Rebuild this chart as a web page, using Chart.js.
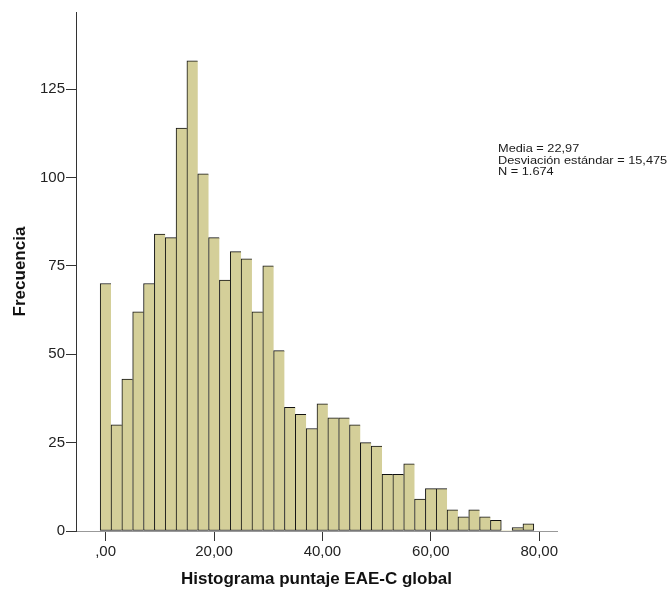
<!DOCTYPE html>
<html>
<head>
<meta charset="utf-8">
<script src="https://cdn.jsdelivr.net/npm/chart.js@4"></script>
<style>
  html, body { margin: 0; padding: 0; background: #fff; }
  canvas { display: block; }
</style>
</head>
<body>
<canvas id="histograma" width="671" height="592"></canvas>
<script>
"use strict";

// centro de cada intervalo (ancho 2) y su frecuencia
const binCenters = [0, 2, 4, 6, 8, 10, 12, 14, 16, 18, 20, 22, 24, 26, 28, 30, 32, 34, 36, 38,
                    40, 42, 44, 46, 48, 50, 52, 54, 56, 58, 60, 62, 64, 66, 68, 70, 72, 74, 76, 78];
const frecuencias = [70, 30, 43, 62, 70, 84, 83, 114, 133, 101, 83, 71, 79, 77, 62, 75, 51, 35, 33, 29,
                     36, 32, 32, 30, 25, 24, 16, 16, 19, 9, 12, 12, 6, 4, 6, 4, 3, 0, 1, 2];

const xTickValues = [0, 20, 40, 60, 80];
const xTickLabels = [",00", "20,00", "40,00", "60,00", "80,00"];
const yTickValues = [0, 25, 50, 75, 100, 125];
const yTickLabels = ["0", "25", "50", "75", "100", "125"];

const statsLines = ["Media = 22,97", "Desviación estándar = 15,475", "N = 1.674"];

const FONT = "'Liberation Sans', Arial, sans-serif";

// cuadro de estadísticos a la derecha (texto algo ensanchado, como en SPSS)
const statsPlugin = {
    id: "stats",
    afterDraw(chart) {
        const ctx = chart.ctx;
        ctx.save();
        ctx.fillStyle = "#1a1a1a";
        ctx.font = "11px " + FONT;
        ctx.textBaseline = "alphabetic";
        ctx.translate(498, 0);
        ctx.scale(1.16, 1);
        statsLines.forEach((t, i) => ctx.fillText(t, 0, 152.4 + i * 11.2));
        ctx.restore();
    }
};

const puntos = binCenters.map((x, i) => ({ x: x, y: frecuencias[i] }));

new Chart(document.getElementById("histograma"), {
    type: "bar",
    data: {
        datasets: [{
            data: puntos,
            backgroundColor: "#D4CF99",
            borderColor: "#111",
            borderSkipped: false,
            borderWidth: (c) => {
                if (!c.raw || c.raw.y === 0) return 0;
                const next = frecuencias[c.dataIndex + 1];
                return { left: 1, top: 1, bottom: 1, right: next ? 0 : 1 };
            },
            barPercentage: 1,
            categoryPercentage: 1
        }]
    },
    options: {
        responsive: false,
        animation: false,
        devicePixelRatio: 1,
        layout: { padding: { top: 12, right: 114, left: 0, bottom: 0 } },
        plugins: {
            legend: { display: false },
            tooltip: { enabled: false }
        },
        scales: {
            x: {
                type: "linear",
                offset: false,
                min: -5.46,
                max: 83.28,
                afterFit: (s) => { s.height = 61; },
                afterBuildTicks: (s) => { s.ticks = xTickValues.map(v => ({ value: v })); },
                grid: { offset: false, drawOnChartArea: false, drawTicks: true, tickLength: 10, color: "#333" },
                border: { color: "#999", width: 1 },
                ticks: {
                    padding: 2,
                    maxRotation: 0,
                    autoSkip: false,
                    color: "#222",
                    font: { family: FONT, size: 15 },
                    callback: (v, i) => xTickLabels[i]
                },
                title: {
                    display: true,
                    text: "Histograma puntaje EAE-C global",
                    color: "#111",
                    font: { family: FONT, size: 17, weight: "bold" },
                    padding: { top: 0, bottom: 2 }
                }
            },
            y: {
                min: 0,
                max: 146.8,
                afterFit: (s) => { s.width = 76; },
                afterBuildTicks: (s) => { s.ticks = yTickValues.map(v => ({ value: v })); },
                grid: { drawOnChartArea: false, drawTicks: true, tickLength: 10, color: "#333" },
                border: { color: "#333", width: 1 },
                ticks: {
                    padding: 1,
                    autoSkip: false,
                    color: "#222",
                    font: { family: FONT, size: 15 },
                    callback: (v, i) => yTickLabels[i]
                },
                title: {
                    display: true,
                    text: "Frecuencia",
                    color: "#111",
                    font: { family: FONT, size: 17, weight: "bold" },
                    padding: { top: 10, bottom: 0 }
                }
            }
        }
    },
    plugins: [statsPlugin]
});
</script>
</body>
</html>
